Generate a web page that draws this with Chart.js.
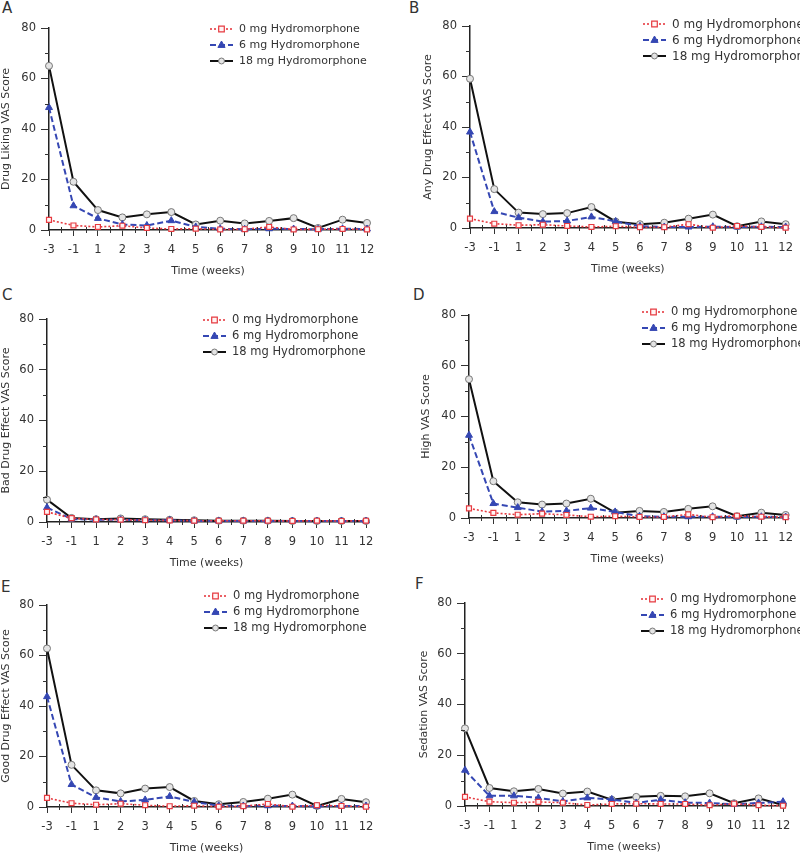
<!DOCTYPE html>
<html>
<head>
<meta charset="utf-8">
<script src="https://cdn.jsdelivr.net/npm/chart.js@4.4.1/dist/chart.umd.min.js"></script>
<style>
    body { margin: 0; background: #fff; width: 800px; height: 856px; position: relative; overflow: hidden; font-family: "DejaVu Sans", sans-serif; }
    canvas { position: absolute; }
    .tag { position: absolute; font-size: 15px; color: #333; line-height: 1; }
</style>
</head>
<body>
<div class="tag" style="left:2px;top:1px">A</div>
<div class="tag" style="left:409px;top:1px">B</div>
<div class="tag" style="left:2px;top:288px">C</div>
<div class="tag" style="left:413px;top:288px">D</div>
<div class="tag" style="left:1px;top:580px">E</div>
<div class="tag" style="left:415px;top:577px">F</div>

<canvas id="chartA" width="400" height="280" style="left:0;top:0"></canvas>
<canvas id="chartB" width="400" height="280" style="left:400px;top:0"></canvas>
<canvas id="chartC" width="400" height="290" style="left:0;top:280px"></canvas>
<canvas id="chartD" width="400" height="290" style="left:400px;top:280px"></canvas>
<canvas id="chartE" width="400" height="286" style="left:0;top:570px"></canvas>
<canvas id="chartF" width="400" height="286" style="left:400px;top:570px"></canvas>

<script>
// categories + series
const weeks = ['-3', '-1', '1', '2', '3', '4', '5', '6', '7', '8', '9', '10', '11', '12'];
const seriesNames = ['0 mg Hydromorphone', '6 mg Hydromorphone', '18 mg Hydromorphone'];
const yTicks = [0, 20, 40, 60, 80];

// A - drug liking
const likingPlacebo = [4.0, 1.8, 1.2, 1.7, 0.8, 0.4, 0.5, 0.2, 0.3, 1.2, 0.2, 0.3, 0.4, 0.2];
const likingLow     = [48.5, 9.6, 4.6, 2.2, 1.8, 3.7, 1.2, 0.5, 0.3, 0.5, 0.4, 0.3, 0.5, 0.4];
const likingHigh    = [65.0, 19.1, 7.9, 5.0, 6.2, 7.1, 2.2, 3.7, 2.6, 3.6, 4.7, 0.8, 4.1, 2.8];

// B - any drug effect
const anyPlacebo = [3.7, 1.7, 1.1, 1.3, 0.8, 0.4, 0.7, 0.3, 0.3, 1.5, 0.1, 0.8, 0.4, 0.1];
const anyLow     = [38.0, 6.5, 4.1, 2.5, 2.8, 4.4, 2.6, 0.7, 0.4, 0.4, 0.5, 0.4, 0.5, 0.4];
const anyHigh    = [59.1, 15.4, 6.1, 5.5, 5.9, 8.3, 2.5, 1.5, 2.1, 3.7, 5.3, 0.7, 2.6, 1.5];

// C - bad drug effect
const badPlacebo = [4.0, 1.5, 1.0, 0.9, 0.7, 0.6, 0.5, 0.5, 0.5, 0.5, 0.4, 0.5, 0.4, 0.5];
const badLow     = [5.7, 1.2, 0.9, 0.9, 0.7, 0.7, 0.4, 0.4, 0.4, 0.4, 0.4, 0.4, 0.4, 0.4];
const badHigh    = [8.8, 1.6, 1.1, 1.4, 1.1, 0.9, 0.7, 0.5, 0.5, 0.5, 0.4, 0.4, 0.4, 0.4];

// D - high
const highPlacebo = [3.8, 2.0, 1.3, 1.7, 1.2, 0.5, 0.7, 0.4, 0.4, 1.4, 0.3, 0.9, 0.5, 0.3];
const highLow     = [32.6, 5.7, 4.1, 2.5, 2.8, 3.9, 2.4, 0.7, 0.5, 0.5, 0.5, 0.4, 0.5, 0.4];
const highHigh    = [54.7, 14.5, 6.2, 5.3, 5.7, 7.6, 2.1, 2.8, 2.4, 3.6, 4.6, 0.7, 2.1, 1.2];

// E - good drug effect
const goodPlacebo = [3.6, 1.5, 0.9, 1.3, 0.7, 0.3, 0.5, 0.1, 0.3, 1.2, 0.1, 0.7, 0.4, 0.1];
const goodLow     = [43.7, 8.9, 3.8, 2.2, 2.8, 4.2, 2.0, 0.5, 0.4, 0.5, 0.4, 0.3, 0.4, 0.4];
const goodHigh    = [62.8, 16.7, 6.6, 5.4, 7.3, 7.9, 2.4, 1.1, 2.0, 3.3, 4.9, 0.4, 3.2, 1.9];

// F - sedation
const sedPlacebo = [3.6, 1.7, 1.3, 1.6, 1.3, 0.4, 0.8, 0.9, 0.8, 0.8, 0.3, 0.9, 0.3, 0.1];
const sedLow     = [14.1, 4.0, 4.0, 3.2, 1.8, 3.2, 2.6, 1.2, 2.5, 1.3, 1.2, 0.7, 1.2, 1.7];
const sedHigh    = [30.6, 7.1, 5.8, 6.7, 4.9, 5.7, 2.5, 3.6, 4.0, 3.8, 5.0, 1.1, 3.0, 0.4];

const seriesStyles = [
    { color: '#e63b41', width: 1.6, dash: [2, 2], point: 'rect', radius: 3.5, fill: '#fff4f4', edge: '#e63b41', edgeWidth: 1.2 },
    { color: '#3547b3', width: 2, dash: [6, 3], point: 'triangle', radius: 4, fill: '#3547b3', edge: '#3547b3', edgeWidth: 1 },
    { color: '#111111', width: 2, dash: [], point: 'circle', radius: 3.5, fill: '#e4e4e4', edge: '#777777', edgeWidth: 1 }
];

const panels = [
    { id: 'chartA', title: 'Drug Liking VAS Score', values: [likingPlacebo, likingLow, likingHigh],
      pad: { left: 0, right: 33, top: 28, bottom: 2 }, yw: 49, legend: { x: 210, y: 29, size: 11 } },
    { id: 'chartB', title: 'Any Drug Effect VAS Score', values: [anyPlacebo, anyLow, anyHigh],
      pad: { left: 22, right: 11, top: 26, bottom: 4 }, yw: 48, legend: { x: 243, y: 24, size: 12 } },
    { id: 'chartC', title: 'Bad Drug Effect VAS Score', values: [badPlacebo, badLow, badHigh],
      pad: { left: 0, right: 34, top: 39, bottom: 0 }, yw: 47, legend: { x: 203, y: 40, size: 11.5 } },
    { id: 'chartD', title: 'High VAS Score', values: [highPlacebo, highLow, highHigh],
      pad: { left: 20, right: 13, top: 35, bottom: 4 }, yw: 49, legend: { x: 242, y: 32, size: 11.5 } },
    { id: 'chartE', title: 'Good Drug Effect VAS Score', values: [goodPlacebo, goodLow, goodHigh],
      pad: { left: 0, right: 34, top: 35, bottom: 1 }, yw: 47, legend: { x: 204, y: 26, size: 11.5 } },
    { id: 'chartF', title: 'Sedation VAS Score', values: [sedPlacebo, sedLow, sedHigh],
      pad: { left: 18, right: 17, top: 33, bottom: 2 }, yw: 47, legend: { x: 241, y: 29, size: 11.5 } }
];

Chart.defaults.font.family = '"DejaVu Sans", sans-serif';
Chart.defaults.font.size = 11;
Chart.defaults.color = '#333';

function drawMarker(ctx, style, x, y) {
    const r = style.radius;
    ctx.save();
    ctx.setLineDash([]);
    ctx.fillStyle = style.fill;
    ctx.strokeStyle = style.edge;
    ctx.lineWidth = style.edgeWidth;
    ctx.beginPath();
    if (style.point === 'rect') {
        ctx.rect(x - r * 0.8, y - r * 0.8, r * 1.6, r * 1.6);
    } else if (style.point === 'triangle') {
        ctx.moveTo(x, y - r);
        ctx.lineTo(x + r * 0.9, y + r * 0.6);
        ctx.lineTo(x - r * 0.9, y + r * 0.6);
        ctx.closePath();
    } else {
        ctx.arc(x, y, r * 0.85, 0, Math.PI * 2);
    }
    ctx.fill();
    ctx.stroke();
    ctx.restore();
}

// legend inside plot + minor ticks
const extrasPlugin = {
    id: 'extras',
    afterDraw(chart, args, opts) {
        const ctx = chart.ctx;
        const xs = chart.scales.x;
        const ys = chart.scales.y;
        const area = chart.chartArea;

        ctx.save();
        ctx.strokeStyle = '#333';
        ctx.lineWidth = 1;
        for (let i = 0; i < weeks.length - 1; i++) {
            const mx = Math.round((xs.getPixelForValue(i) + xs.getPixelForValue(i + 1)) / 2) + 0.5;
            ctx.beginPath();
            ctx.moveTo(mx, area.bottom - 3);
            ctx.lineTo(mx, area.bottom + 3);
            ctx.stroke();
        }
        for (let v = 10; v < 80; v += 20) {
            const my = Math.round(ys.getPixelForValue(v)) + 0.5;
            ctx.beginPath();
            ctx.moveTo(area.left - 4, my);
            ctx.lineTo(area.left, my);
            ctx.stroke();
        }
        ctx.restore();

        const lg = opts.legend;
        ctx.save();
        ctx.font = lg.size + 'px "DejaVu Sans", sans-serif';
        ctx.textBaseline = 'middle';
        ctx.fillStyle = '#333';
        seriesStyles.forEach((s, i) => {
            const y = lg.y + i * 16;
            ctx.strokeStyle = s.color;
            ctx.lineWidth = s.width;
            ctx.setLineDash(s.dash);
            ctx.beginPath();
            ctx.moveTo(lg.x, y);
            ctx.lineTo(lg.x + 23, y);
            ctx.stroke();
            drawMarker(ctx, s, lg.x + 11.5, y);
            ctx.fillText(seriesNames[i], lg.x + 29, y + 0.5);
        });
        ctx.restore();
    }
};

panels.forEach(p => {
    const ctx = document.getElementById(p.id).getContext('2d');
    new Chart(ctx, {
        type: 'line',
        data: {
            labels: weeks,
            datasets: p.values.map((vals, i) => {
                const s = seriesStyles[i];
                return {
                    label: seriesNames[i],
                    data: vals,
                    borderColor: s.color,
                    borderWidth: s.width,
                    borderDash: s.dash,
                    pointStyle: s.point,
                    pointRadius: s.radius,
                    pointBackgroundColor: s.fill,
                    pointBorderColor: s.edge,
                    pointBorderWidth: s.edgeWidth,
                    tension: 0,
                    fill: false,
                    clip: false
                };
            })
        },
        options: {
            responsive: false,
            animation: false,
            devicePixelRatio: 1,
            layout: { padding: p.pad },
            plugins: {
                legend: { display: false },
                tooltip: { enabled: false },
                extras: { legend: p.legend }
            },
            scales: {
                x: {
                    type: 'category',
                    offset: false,
                    afterFit: s => { s.height = 48; },
                    grid: { display: true, drawOnChartArea: false, drawTicks: true, tickLength: 6, color: '#333', lineWidth: 1 },
                    border: { display: true, color: '#222', width: 1.5 },
                    ticks: { autoSkip: false, maxRotation: 0, padding: 7, font: { size: 11.5 } },
                    title: { display: true, text: 'Time (weeks)', padding: { top: 0, bottom: 0 }, font: { size: 11 } }
                },
                y: {
                    min: 0,
                    max: 80,
                    afterFit: s => { s.width = p.yw; },
                    afterBuildTicks: s => { s.ticks = yTicks.map(v => ({ value: v })); },
                    grid: { display: true, drawOnChartArea: false, drawTicks: true, tickLength: 8, color: '#333', lineWidth: 1 },
                    border: { display: true, color: '#222', width: 1.5 },
                    ticks: { padding: 5, font: { size: 11.5 } },
                    title: { display: true, text: p.title, padding: { top: 0, bottom: 0 }, font: { size: 11 } }
                }
            }
        },
        plugins: [extrasPlugin]
    });
});
</script>
</body>
</html>
